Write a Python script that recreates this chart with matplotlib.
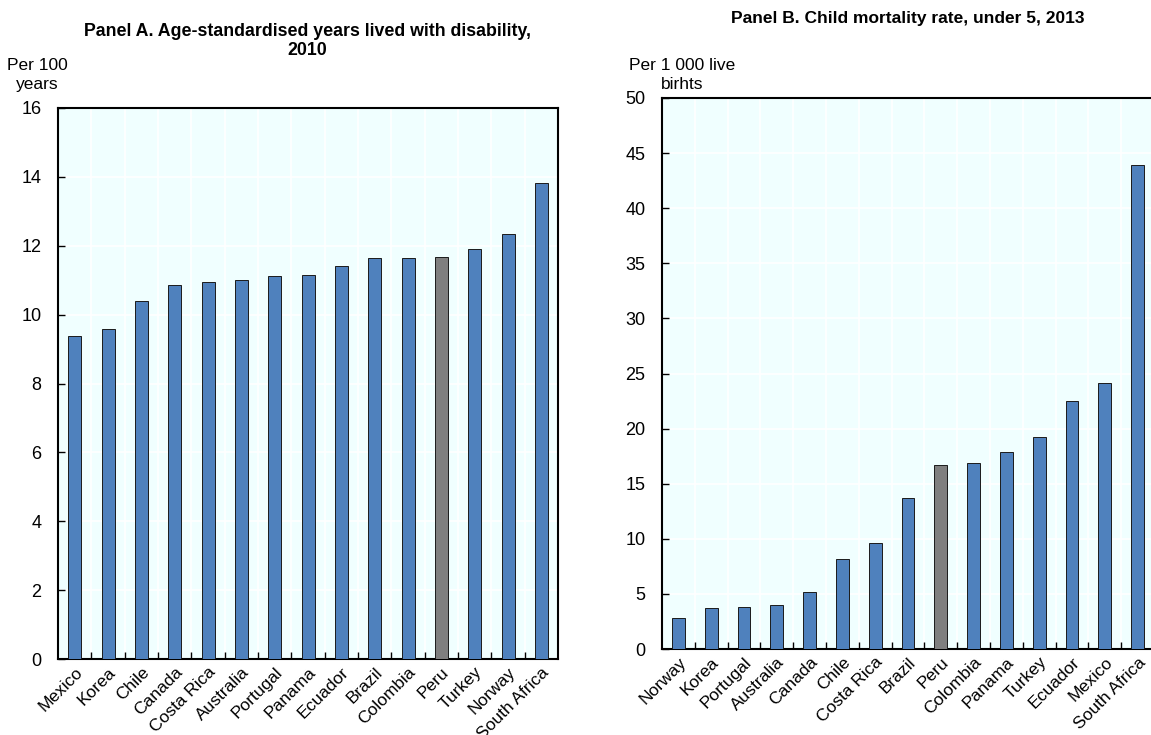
import numpy as np
import matplotlib.pyplot as plt

plt.rcParams['font.family'] = ['Liberation Sans', 'DejaVu Sans']

countries_a = ["Mexico", "Korea", "Chile", "Canada", "Costa Rica", "Australia",
               "Portugal", "Panama", "Ecuador", "Brazil", "Colombia", "Peru",
               "Turkey", "Norway", "South Africa"]
values_a = [9.37, 9.58, 10.40, 10.85, 10.95, 11.00, 11.12, 11.15, 11.42,
            11.63, 11.64, 11.68, 11.90, 12.33, 13.83]

countries_b = ["Norway", "Korea", "Portugal", "Australia", "Canada", "Chile",
               "Costa Rica", "Brazil", "Peru", "Colombia", "Panama", "Turkey",
               "Ecuador", "Mexico", "South Africa"]
values_b = [2.8, 3.7, 3.8, 4.0, 5.2, 8.2, 9.6, 13.7, 16.7, 16.9, 17.9, 19.2,
            22.5, 24.1, 43.9]

BLUE = "#4F81BD"
GREY = "#7F7F7F"
BG = "#F0FFFF"
W, H = 1151, 735


def draw_panel(ax, names, vals, ymax, ystep):
    x = np.arange(len(names))
    colors = [GREY if n == "Peru" else BLUE for n in names]
    ax.set_facecolor(BG)
    ax.bar(x, vals, width=0.39, color=colors, edgecolor="#1a1a1a", linewidth=0.7, zorder=3)
    ax.set_xlim(-0.5, len(names) - 0.5)
    ax.set_ylim(0, ymax)
    ax.set_yticks(np.arange(0, ymax + 0.1, ystep))
    ax.set_xticks(x)
    ax.set_xticklabels(names, rotation=45, ha="right", rotation_mode="anchor", fontsize=12.5)
    ax.tick_params(axis="x", length=0, pad=4)
    ax.set_xticks(np.arange(0.5, len(names) - 0.5), minor=True)
    ax.tick_params(axis="x", which="minor", direction="in", length=5, width=1)
    ax.tick_params(axis="y", direction="in", length=5, width=1, labelsize=13, pad=12)
    ax.grid(True, which="minor", axis="x", color="white", linewidth=1.2, zorder=0)
    ax.grid(True, which="major", axis="y", color="white", linewidth=1.2, zorder=0)
    for s in ax.spines.values():
        s.set_linewidth(1.5)


fig = plt.figure(figsize=(W / 100, H / 100), dpi=100)

ax1 = fig.add_axes([58 / W, 1 - 659 / H, 500 / W, 551 / H])
draw_panel(ax1, countries_a, values_a, 16, 2)
fig.text(307 / W, 1 - 59 / H,
         "Panel A. Age-standardised years lived with disability,\n2010",
         ha="center", va="bottom", fontsize=12.8, fontweight="bold", linespacing=1.15)
fig.text(37 / W, 1 - 92 / H, "Per 100\nyears", ha="center", va="bottom",
         fontsize=12.5, linespacing=1.3)

ax2 = fig.add_axes([662 / W, 1 - 649 / H, 492 / W, 551 / H])
draw_panel(ax2, countries_b, values_b, 50, 5)
ax2.spines["right"].set_visible(False)
fig.text(908 / W, 1 - 26 / H, "Panel B. Child mortality rate, under 5, 2013",
         ha="center", va="bottom", fontsize=12.5, fontweight="bold")
fig.text(682 / W, 1 - 92 / H, "Per 1 000 live\nbirhts", ha="center",
         va="bottom", fontsize=12.5, linespacing=1.3)

fig.savefig("out.png", dpi=100)
